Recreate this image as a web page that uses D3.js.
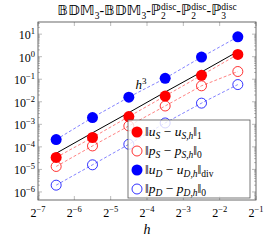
<!DOCTYPE html>
<html>
<head>
<meta charset="utf-8">
<script src="https://cdn.jsdelivr.net/npm/d3@7"></script>
<style>
  body { margin: 0; background: #fff; }
  svg { display: block; }
  text { font-family: "Liberation Serif", "DejaVu Serif", serif; }
</style>
</head>
<body>
<div id="chart"></div>
<script>
// mesh sizes h = sqrt(2) * 2^-k
const hVals = [0.011049, 0.022097, 0.044194, 0.088388, 0.176777, 0.353553];
const errUS = [3.4e-5, 2.6e-4, 2.2e-3, 1.8e-2, 0.15, 1.26];
const errPS = [1.35e-5, 1.1e-4, 8.5e-4, 6.5e-3, 5.1e-2, 0.22];
const errUD = [2.1e-4, 2.0e-3, 1.6e-2, 0.11, 0.96, 7.6];
const errPD = [2.0e-6, 1.6e-5, 1.3e-4, 1.15e-3, 8.7e-3, 5.8e-2];
const refH3 = [5.2e-5, 4.2e-4, 3.3e-3, 2.7e-2, 0.21, 1.7];
const xTickExp = [-7, -6, -5, -4, -3, -2, -1];
const yTickExp = [-6, -5, -4, -3, -2, -1, 0, 1];

const width = 270, height = 242;
const [mt, mr, mb, ml] = [22, 14, 42, 38];

const svg = d3.select('#chart').append('svg')
  .attr('width', width)
  .attr('height', height);

const x = d3.scaleLog().base(2)
  .domain([2 ** xTickExp[0], 2 ** xTickExp[xTickExp.length - 1]])
  .range([ml, width - mr]);

// pgfplots style: data extent enlarged by 10% in log space
const allVals = errUS.concat(errPS, errUD, errPD);
const lo = Math.log10(d3.min(allVals)), hi = Math.log10(d3.max(allVals));
const pad = (hi - lo) * 0.1;
const y = d3.scaleLog()
  .domain([10 ** (lo - pad), 10 ** (hi + pad)])
  .range([height - mb, mt]);

const x0 = ml, x1 = width - mr, y0 = height - mb, y1 = mt;

// ticks
const yMinor = [];
for (let k = -7; k <= 1; k++) for (let m = 2; m <= 9; m++) {
  const v = m * 10 ** k;
  if (v > y.domain()[0] && v < y.domain()[1]) yMinor.push(v);
}
const tickG = svg.append('g').attr('stroke', '#777').attr('stroke-width', 0.5);
xTickExp.forEach(e => {
  const px = x(2 ** e);
  tickG.append('line').attr('x1', px).attr('x2', px).attr('y1', y0).attr('y2', y0 - 4);
  tickG.append('line').attr('x1', px).attr('x2', px).attr('y1', y1).attr('y2', y1 + 4);
});
yTickExp.forEach(e => {
  const py = y(10 ** e);
  tickG.append('line').attr('x1', x0).attr('x2', x0 + 4).attr('y1', py).attr('y2', py);
  tickG.append('line').attr('x1', x1).attr('x2', x1 - 4).attr('y1', py).attr('y2', py);
});
yMinor.forEach(v => {
  const py = y(v);
  tickG.append('line').attr('x1', x0).attr('x2', x0 + 2).attr('y1', py).attr('y2', py);
  tickG.append('line').attr('x1', x1).attr('x2', x1 - 2).attr('y1', py).attr('y2', py);
});

// tick labels
xTickExp.forEach(e => {
  const t = svg.append('text')
    .attr('x', x(2 ** e)).attr('y', y0 + 17)
    .attr('text-anchor', 'middle').attr('font-size', 12);
  t.append('tspan').text('2');
  t.append('tspan').attr('dy', -5).attr('font-size', 8.5).text(e < 0 ? '\u2212' + (-e) : e);
});
yTickExp.forEach(e => {
  const t = svg.append('text')
    .attr('x', x0 - 3).attr('y', y(10 ** e) + 5)
    .attr('text-anchor', 'end').attr('font-size', 12);
  t.append('tspan').text('10');
  t.append('tspan').attr('dy', -5).attr('font-size', 8.5).text(e < 0 ? '\u2212' + (-e) : e);
});

// frame
svg.append('rect')
  .attr('x', x0).attr('y', y1).attr('width', x1 - x0).attr('height', y0 - y1)
  .attr('fill', 'none').attr('stroke', '#444').attr('stroke-width', 0.8);

const plot = svg.append('g');

const series = [
  { vals: errUD, color: 'blue', filled: true },
  { vals: errUS, color: 'red', filled: true },
  { vals: errPS, color: 'red', filled: false },
  { vals: errPD, color: 'blue', filled: false }
];

const line = d3.line().x((d, i) => x(hVals[i])).y(d => y(d));

series.forEach(s => {
  plot.append('path')
    .attr('d', line(s.vals))
    .attr('fill', 'none')
    .attr('stroke', s.color)
    .attr('stroke-opacity', 0.7)
    .attr('stroke-width', 0.7)
    .attr('stroke-dasharray', '3,2');
});

plot.append('path')
  .attr('d', line(refH3))
  .attr('fill', 'none')
  .attr('stroke', 'black')
  .attr('stroke-width', 1);

series.forEach(s => {
  plot.selectAll(null)
    .data(s.vals)
    .enter()
    .append('circle')
    .attr('cx', (d, i) => x(hVals[i]))
    .attr('cy', d => y(d))
    .attr('r', s.filled ? 5.5 : 5)
    .attr('fill', s.filled ? s.color : 'none')
    .attr('stroke', s.color)
    .attr('stroke-width', s.filled ? 0 : 0.8);
});

// h^3 label
const h3 = svg.append('text')
  .attr('x', x(0.0625) - 6).attr('y', y(refH3[3]) - 3)
  .attr('font-size', 13).attr('text-anchor', 'middle');
h3.append('tspan').attr('font-style', 'italic').text('h');
h3.append('tspan').attr('dy', -5).attr('font-size', 9).text('3');

// legend
const leg = svg.append('g');
leg.append('rect')
  .attr('x', 128).attr('y', 120).attr('width', 122).attr('height', 78)
  .attr('fill', 'white').attr('fill-opacity', 0.8)
  .attr('stroke', '#555').attr('stroke-width', 0.8);

const legendRows = [
  { s: series[1], a: 'u', b: 'S', sub: '1' },
  { s: series[2], a: 'p', b: 'S', sub: '0' },
  { s: series[0], a: 'u', b: 'D', sub: 'div' },
  { s: series[3], a: 'p', b: 'D', sub: '0' }
];
legendRows.forEach((r, i) => {
  const cy = 132 + i * 19;
  leg.append('circle')
    .attr('cx', 137).attr('cy', cy).attr('r', r.s.filled ? 5.5 : 5)
    .attr('fill', r.s.filled ? r.s.color : 'none')
    .attr('stroke', r.s.color).attr('stroke-width', r.s.filled ? 0 : 0.8);
  const t = leg.append('text').attr('x', 145).attr('y', cy + 4).attr('font-size', 13.5);
  t.append('tspan').text('\u2016');
  t.append('tspan').attr('font-style', 'italic').text(r.a);
  t.append('tspan').attr('font-style', 'italic').attr('font-size', 9.5).attr('dy', 2.5).text(r.b);
  t.append('tspan').attr('dy', -2.5).text(' \u2212 ');
  t.append('tspan').attr('font-style', 'italic').text(r.a);
  t.append('tspan').attr('font-style', 'italic').attr('font-size', 9.5).attr('dy', 2.5).text(r.b + ',h');
  t.append('tspan').attr('dy', -2.5).text('\u2016');
  t.append('tspan').attr('font-size', 9.5).attr('dy', 2.5).text(r.sub);
});

// title, laid out piece by piece so sub/superscripts can stack
const titleG = svg.append('g');
let cursor = 0;
const piece = (txt, dy, size, family) => {
  const t = titleG.append('text')
    .attr('x', cursor).attr('y', dy)
    .attr('font-size', size)
    .text(txt);
  if (family) t.style('font-family', family);
  return t.node().getComputedTextLength();
};
const bb = '"DejaVu Sans", "Noto Sans", sans-serif';
const part = (name, sub, sup) => {
  cursor += piece(name, 0, 14.5, bb);
  if (sup) {
    const w1 = piece(sup, -5, 9.5);
    const w2 = piece(sub, 4, 9.5);
    cursor += Math.max(w1, w2);
  } else {
    cursor += piece(sub, 3.5, 9.5);
  }
};
const dash = () => { cursor += piece('-', 0, 14); };
part('\u{1D539}\u{1D53B}\u{1D544}', '3'); dash();
part('\u{1D539}\u{1D53B}\u{1D544}', '3'); dash();
part('\u2119', '2', 'disc'); dash();
part('\u2119', '2', 'disc'); dash();
part('\u2119', '3', 'disc');
titleG.attr('transform', `translate(${(x0 + x1) / 2 - cursor / 2}, 15)`);

// x label
svg.append('text')
  .attr('x', (x0 + x1) / 2).attr('y', height - 8)
  .attr('text-anchor', 'middle').attr('font-size', 14)
  .attr('font-style', 'italic').text('h');
</script>
</body>
</html>
